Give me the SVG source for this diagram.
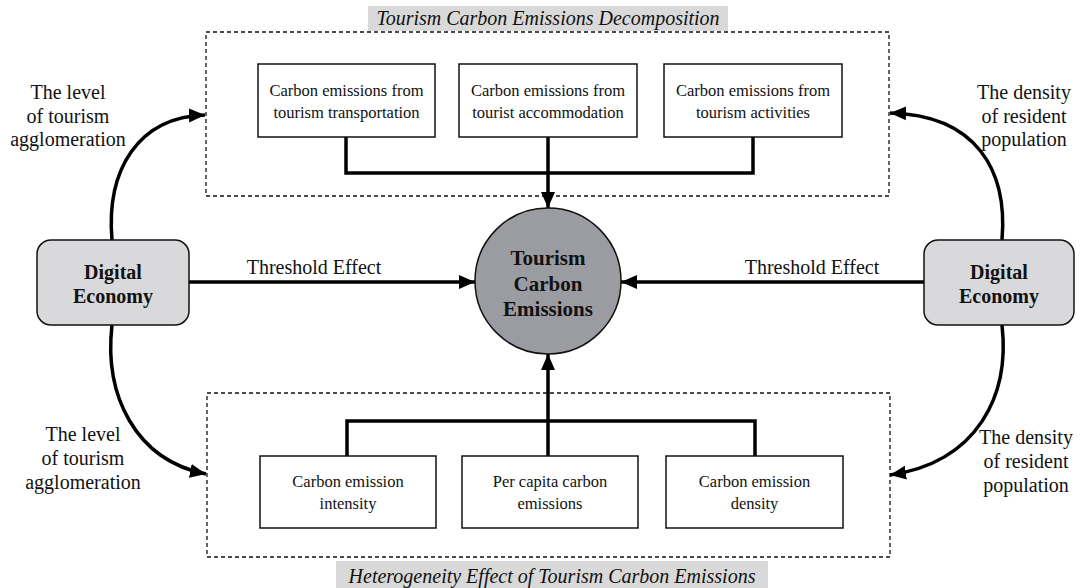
<svg xmlns="http://www.w3.org/2000/svg" width="1081" height="588" viewBox="0 0 1081 588">
<defs>
<style>
text{font-family:"Liberation Serif","Times New Roman",serif;fill:#111;}
.lbl{font-size:20px;text-anchor:middle;}
.box{fill:#fff;stroke:#111;stroke-width:1.5;}
.bt{font-size:16.5px;text-anchor:middle;}
.dash{fill:none;stroke:#111;stroke-width:1.3;stroke-dasharray:4 3;}
.cap{font-size:20px;font-style:italic;text-anchor:middle;}
.capbg{fill:#d9d9d9;}
.de{fill:#d9d9db;stroke:#111;stroke-width:1.5;}
.det{font-size:20px;font-weight:bold;text-anchor:middle;}
.ln{fill:none;stroke:#000;stroke-width:3.5;}
.la{fill:none;stroke:#000;stroke-width:3.5;marker-end:url(#ah);}
</style>
<marker id="ah" markerUnits="userSpaceOnUse" markerWidth="18" markerHeight="16" refX="16" refY="7" orient="auto" viewBox="0 0 18 14">
<path d="M0,0 L16,7 L0,14 Z" fill="#000"/>
</marker>
</defs>
<rect width="1081" height="588" fill="#fff"/>

<g id="group-decomposition">
<rect class="dash" x="206" y="32" width="683" height="164"/>
<rect class="capbg" x="368" y="6" width="360" height="25"/>
<text class="cap" x="548" y="25">Tourism Carbon Emissions Decomposition</text>
</g>
<g id="group-heterogeneity">
<rect class="dash" x="207" y="393" width="683" height="164"/>
<rect class="capbg" x="336" y="561" width="432" height="27"/>
<text class="cap" x="552" y="583">Heterogeneity Effect of Tourism Carbon Emissions</text>
</g>

<g id="connectors">
<path class="ln" d="M346,137 V173 H753 V137"/>
<path class="la" d="M548,137 V208"/>
<path class="ln" d="M347,456 V421 H755 V456"/>
<path class="la" d="M548,456 V354"/>
<path class="la" d="M189,282 H475"/>
<path class="la" d="M924,282 H621"/>
<path class="la" d="M112,240 C106,170 138,117 205,115"/>
<path class="la" d="M1002,240 C1008,170 976,115 890,113"/>
<path class="la" d="M112,325 C104,395 135,460 206,474"/>
<path class="la" d="M1002,325 C1010,395 978,462 890,475"/>
</g>

<g id="label-threshold-left"><text class="lbl" x="314" y="274">Threshold Effect</text></g>
<g id="label-threshold-right"><text class="lbl" x="812" y="274">Threshold Effect</text></g>
<g id="label-agglo-top"><text class="lbl" x="68" y="99">The level</text><text class="lbl" x="68" y="123">of tourism</text><text class="lbl" x="68" y="146">agglomeration</text></g>
<g id="label-density-top"><text class="lbl" x="1024" y="99">The density</text><text class="lbl" x="1024" y="123">of resident</text><text class="lbl" x="1024" y="146">population</text></g>
<g id="label-agglo-bottom"><text class="lbl" x="83" y="441">The level</text><text class="lbl" x="83" y="465">of tourism</text><text class="lbl" x="83" y="489">agglomeration</text></g>
<g id="label-density-bottom"><text class="lbl" x="1026" y="444">The density</text><text class="lbl" x="1026" y="468">of resident</text><text class="lbl" x="1026" y="492">population</text></g>

<g id="node-transport"><rect class="box" x="258" y="64" width="177" height="73"/><text class="bt" x="346.5" y="96">Carbon emissions from</text><text class="bt" x="346.5" y="118">tourism transportation</text></g>
<g id="node-accommodation"><rect class="box" x="459" y="64" width="178" height="73"/><text class="bt" x="548" y="96">Carbon emissions from</text><text class="bt" x="548" y="118">tourist accommodation</text></g>
<g id="node-activities"><rect class="box" x="664" y="64" width="178" height="73"/><text class="bt" x="753" y="96">Carbon emissions from</text><text class="bt" x="753" y="118">tourism activities</text></g>

<g id="node-intensity"><rect class="box" x="260" y="456" width="176" height="72"/><text class="bt" x="348" y="487">Carbon emission</text><text class="bt" x="348" y="509">intensity</text></g>
<g id="node-percapita"><rect class="box" x="462" y="456" width="176" height="72"/><text class="bt" x="550" y="487">Per capita carbon</text><text class="bt" x="550" y="509">emissions</text></g>
<g id="node-density"><rect class="box" x="666" y="456" width="177" height="72"/><text class="bt" x="754.5" y="487">Carbon emission</text><text class="bt" x="754.5" y="509">density</text></g>

<g id="node-digital-left"><rect class="de" x="37" y="240" width="152" height="85" rx="14"/><text class="det" x="113" y="279">Digital</text><text class="det" x="113" y="303">Economy</text></g>
<g id="node-digital-right"><rect class="de" x="924" y="240" width="150" height="85" rx="14"/><text class="det" x="999" y="279">Digital</text><text class="det" x="999" y="303">Economy</text></g>

<g id="node-tce"><circle cx="548" cy="281" r="73" fill="#9b9ca1" stroke="#111" stroke-width="1.5"/><text class="det" x="548" y="265" style="font-size:21px">Tourism</text><text class="det" x="548" y="291" style="font-size:21px">Carbon</text><text class="det" x="548" y="316" style="font-size:21px">Emissions</text></g>
</svg>
